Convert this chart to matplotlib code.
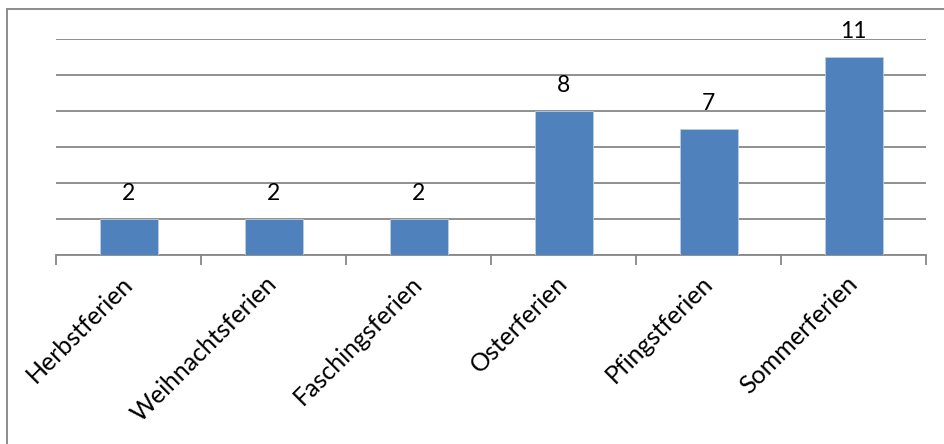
import matplotlib
matplotlib.use("Agg")
import matplotlib.pyplot as plt
from matplotlib.lines import Line2D
import numpy as np

categories = ["Herbstferien", "Weihnachtsferien", "Faschingsferien",
              "Osterferien", "Pfingstferien", "Sommerferien"]
values = [2, 2, 2, 8, 7, 11]

plt.rcParams["font.family"] = ["Lato", "DejaVu Sans"]

W, H, DPI = 944, 444, 100
fig = plt.figure(figsize=(W / DPI, H / DPI), dpi=DPI)
fig.patch.set_facecolor("white")

# plot area in pixel terms
left, right, top, bottom = 56, 926, 39, 255
ax = fig.add_axes([left / W, 1 - bottom / H, (right - left) / W, (bottom - top) / H])

x = np.arange(len(categories))
bars = ax.bar(x, values, width=0.4, color="#4F81BD", edgecolor="#B9CDE5",
              linewidth=0.6, zorder=3)

ax.set_xlim(-0.5, len(categories) - 0.5)
ax.set_ylim(0, 12)

# horizontal gridlines every 2 units
ax.set_yticks(np.arange(0, 13, 2))
ax.yaxis.grid(True, color="#878787", linewidth=1.3, zorder=0)
ax.tick_params(axis="y", left=False, labelleft=False)

for side in ("left", "right", "top"):
    ax.spines[side].set_visible(False)
ax.spines["bottom"].set_color("#878787")
ax.spines["bottom"].set_linewidth(1.3)

# category boundaries carry the tick marks; labels sit at the centres
ax.set_xticks(np.arange(-0.5, len(categories), 1.0), minor=True)
ax.tick_params(axis="x", which="minor", length=7, width=1.3, color="#878787", direction="out")
ax.set_xticks(x)
ax.tick_params(axis="x", which="major", length=0, pad=18)
ax.set_xticklabels(categories, rotation=45, ha="right", va="center",
                   rotation_mode="anchor", fontsize=18, color="black")

# value labels above each bar
for xi, v in zip(x, values):
    ax.annotate(str(v), (xi, v), xytext=(0, 18.5), textcoords="offset points",
                ha="center", va="center", fontsize=16.5, color="black")

# chart-area frame (top and left edges)
fig.add_artist(Line2D([7 / W, 7 / W], [0, 1 - 9.5 / H], transform=fig.transFigure,
                      color="#8C8C8C", linewidth=1.4))
fig.add_artist(Line2D([7 / W, 1], [1 - 9.5 / H, 1 - 9.5 / H], transform=fig.transFigure,
                      color="#8C8C8C", linewidth=1.4))

fig.savefig("out.png", dpi=DPI)
